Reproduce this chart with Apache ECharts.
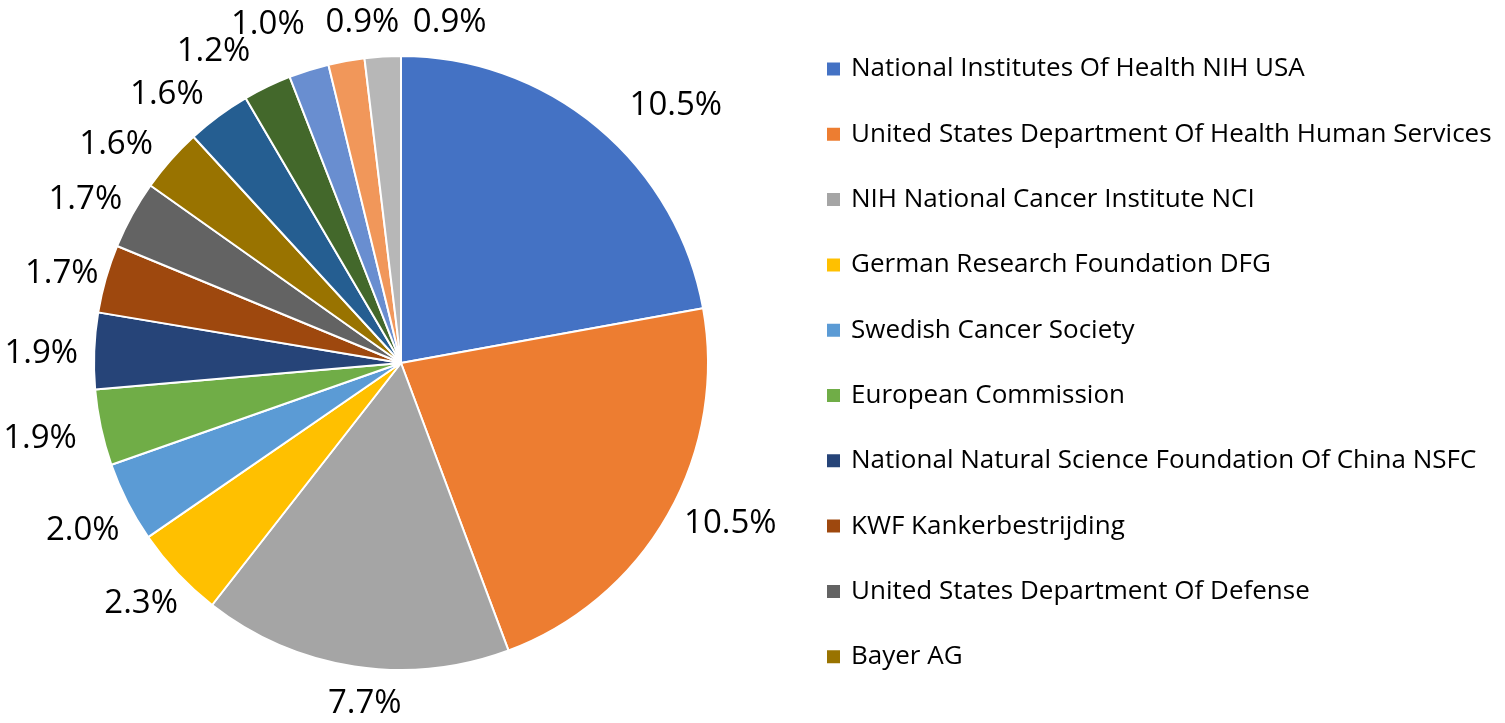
<!DOCTYPE html>
<html>
<head>
<meta charset="utf-8">
<title>Funding agencies</title>
<script src="https://cdn.jsdelivr.net/npm/echarts@6/dist/echarts.min.js"></script>
<style>
  html, body { margin: 0; padding: 0; background: #fff; }
  #chart { width: 1505px; height: 723px; }
</style>
</head>
<body>
<div id="chart"></div>
<script>
// funding agencies, clockwise from 12 o'clock
var agencies = [
    'National Institutes Of Health NIH USA',
    'United States Department Of Health Human Services',
    'NIH National Cancer Institute NCI',
    'German Research Foundation DFG',
    'Swedish Cancer Society',
    'European Commission',
    'National Natural Science Foundation Of China NSFC',
    'KWF Kankerbestrijding',
    'United States Department Of Defense',
    'Bayer AG',
    'Agency 11',
    'Agency 12',
    'Agency 13',
    'Agency 14',
    'Agency 15'
];
// share of publications, %
var shares = [10.5, 10.5, 7.7, 2.3, 2.0, 1.9, 1.9, 1.7, 1.7, 1.6, 1.6, 1.2, 1.0, 0.9, 0.9];
// only the first ten are listed in the legend
var legendNames = agencies.slice(0, 10);

var colors = ['#4472C4', '#ED7D31', '#A5A5A5', '#FFC000', '#5B9BD5', '#70AD47',
    '#264478', '#9E480E', '#636363', '#997300', '#255E91', '#43682B',
    '#698ED0', '#F1975A', '#B7B7B7'];

// small label nudges (px) so labels sit like the excel "best fit" layout
var labelNudge = [
    [46, 17], [19, -16], [18, -12], [0, -4], [0, 6], [-12, 0], [-3, 5], [4, 9],
    [-3, 9], [-17, 18], [-22, 19], [-32, 10], [-26, 2], [25, 11], [70, 16]
];

var font = 'Open Sans, Noto Sans, sans-serif';

var data = [];
for (var i = 0; i < agencies.length; i++) {
    data.push({ name: agencies[i], value: shares[i] });
}

var chart = echarts.init(document.getElementById('chart'));
chart.setOption({
    color: colors,
    animation: false,
    legend: {
        orient: 'vertical',
        left: 825,
        top: 56,
        padding: 0,
        data: legendNames,
        icon: 'rect',
        itemWidth: 15,
        itemHeight: 15,
        itemGap: 39.3,
        textStyle: {
            fontFamily: font,
            fontSize: 26,
            lineHeight: 26,
            padding: [0, 0, 0, 5],
            color: '#000'
        }
    },
    series: [{
        type: 'pie',
        center: [401, 363],
        radius: 307,
        startAngle: 90,
        clockwise: true,
        avoidLabelOverlap: false,
        data: data,
        itemStyle: { borderColor: '#fff', borderWidth: 2 },
        label: {
            show: true,
            position: 'outside',
            distanceToLabelLine: 0,
            formatter: function (p) { return p.value.toFixed(1) + '%'; },
            fontFamily: font,
            fontSize: 33,
            color: '#000'
        },
        labelLine: { show: false, length: 50, length2: 0 },
        labelLayout: function (p) {
            var n = labelNudge[p.dataIndex];
            return { align: 'center', dx: n[0], dy: n[1] };
        }
    }]
});
</script>
</body>
</html>
